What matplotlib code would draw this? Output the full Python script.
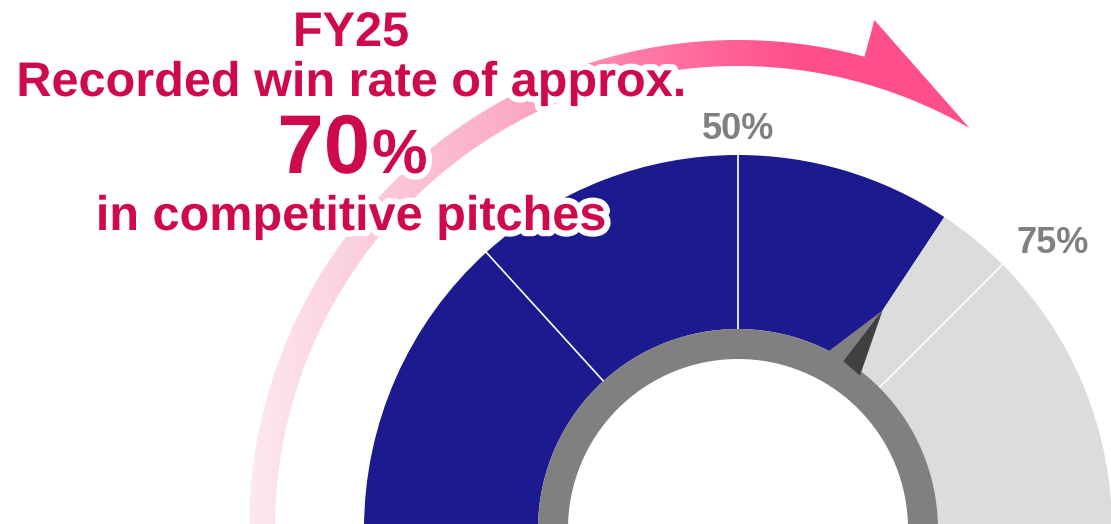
import numpy as np
import matplotlib
matplotlib.use('Agg')
from matplotlib import pyplot as plt
from matplotlib.patches import Wedge, Polygon, PathPatch
from matplotlib.path import Path
from matplotlib.colors import LinearSegmentedColormap
import matplotlib.patheffects as pe

# данные
ticks = [0, 26.5, 50, 75, 100]
win_rate = 68.6
tick_labels = ['50%', '75%']
label_ticks = [50, 75]
title_lines = ['FY25', 'Recorded win rate of approx.', 'in competitive pitches']
big_number = '70'
big_unit = '%'

W, H = 1111, 524
cx, cy = 738, -5          # центр шкалы (в пикселях, ось y вверх)
r_out, r_in = 374, 200    # кольцо шкалы
ring_out, ring_in = 200, 170

blue = '#1b1a8f'
light = '#dcdcdc'
ring_gray = '#808080'
dark = '#404040'
text_red = '#cf0a4c'


def pct_to_angle(p):  # 0% слева, 100% справа
    return 180 - p * 1.8

def polar(r, ang):
    a = np.radians(ang)
    return cx + r * np.cos(a), cy + r * np.sin(a)


fig = plt.figure(figsize=(W / 100, H / 100), dpi=100)
ax = fig.add_axes([0, 0, 1, 1])
ax.set_xlim(0, W)
ax.set_ylim(0, H)
ax.axis('off')

# розовая стрелка с градиентом
arc_r_in, arc_r_out, head_r = 463, 489, 527
a_start, a_end, a_tip = 186, 75, 60
outer = [polar(arc_r_out, a) for a in np.linspace(a_start, a_end, 200)]
inner = [polar(arc_r_in, a) for a in np.linspace(a_tip, a_start, 200)]
pts = outer + [polar(head_r, a_end)] + inner
arrow_path = Path(pts + [pts[0]], closed=True)
clip = PathPatch(arrow_path, facecolor='none', edgecolor='none')
ax.add_patch(clip)

grad_cmap = LinearSegmentedColormap.from_list(
    'pinks', [(0.0, '#fde8ef'), (0.18, '#fcc9d9'), (0.36, '#fba9c4'),
              (0.52, '#ff7aa6'), (0.73, '#ff4f8b'), (1.0, '#ff4f8b')])
grad = np.linspace(0, 1, 512).reshape(1, -1)
img = ax.imshow(grad, cmap=grad_cmap, extent=[250, 1000, 0, H], aspect='auto', zorder=1)
img.set_clip_path(clip)
ax.set_xlim(0, W)
ax.set_ylim(0, H)

# сегменты шкалы
for lo, hi in zip(ticks[:-1], ticks[1:]):
    if hi <= win_rate:
        segs = [(lo, hi, blue)]
    elif lo >= win_rate:
        segs = [(lo, hi, light)]
    else:
        segs = [(lo, win_rate, blue), (win_rate, hi, light)]
    for s0, s1, col in segs:
        ax.add_patch(Wedge((cx, cy), r_out, pct_to_angle(s1), pct_to_angle(s0),
                           width=r_out - r_in, facecolor=col, edgecolor='none', zorder=2))

# белые разделители
for t in ticks[1:-1]:
    x0, y0 = polar(r_in, pct_to_angle(t))
    x1, y1 = polar(r_out + 2, pct_to_angle(t))
    ax.plot([x0, x1], [y0, y1], color='white', lw=1.2, zorder=3)

# серое внутреннее кольцо
ax.add_patch(Wedge((cx, cy), ring_out, 0, 180, width=ring_out - ring_in,
                   facecolor=ring_gray, edgecolor='none', zorder=4))

# стрелка-указатель
va = pct_to_angle(win_rate)
tip = polar(262, va)
base_l = polar(196, va + 7)
base_c = polar(198, va + 1.3)
base_r = polar(196, va - 5)
ax.add_patch(Polygon([base_l, tip, base_c], closed=True, facecolor=ring_gray,
                     edgecolor='none', zorder=4))
ax.add_patch(Polygon([base_c, tip, base_r], closed=True, facecolor=dark,
                     edgecolor='none', zorder=4))

# подписи делений
for lab, t in zip(tick_labels, label_ticks):
    ang = pct_to_angle(t)
    x, y = polar(390, ang)
    ha = 'center' if abs(ang - 90) < 1 else ('left' if ang < 90 else 'right')
    ax.text(x + (3 if ha == 'left' else 0), y, lab, ha=ha, va='baseline', fontsize=26,
            fontweight='bold', color=ring_gray, family='Liberation Sans', zorder=5)

# заголовок
outline = [pe.withStroke(linewidth=9, foreground='white')]
tx = 351
common = dict(va='baseline', fontweight='bold', color=text_red,
              family='Liberation Sans', zorder=6, path_effects=outline)
ax.text(tx, H - 46, title_lines[0], ha='center', fontsize=35, **common)
ax.text(tx, H - 96, title_lines[1], ha='center', fontsize=35, **common)
ax.text(tx, H - 230, title_lines[2], ha='center', fontsize=35, **common)
ax.text(370, H - 173, big_number, ha='right', fontsize=60, **common)
ax.text(372, H - 173, big_unit, ha='left', fontsize=45, **common)

fig.savefig('out.png', dpi=100)
